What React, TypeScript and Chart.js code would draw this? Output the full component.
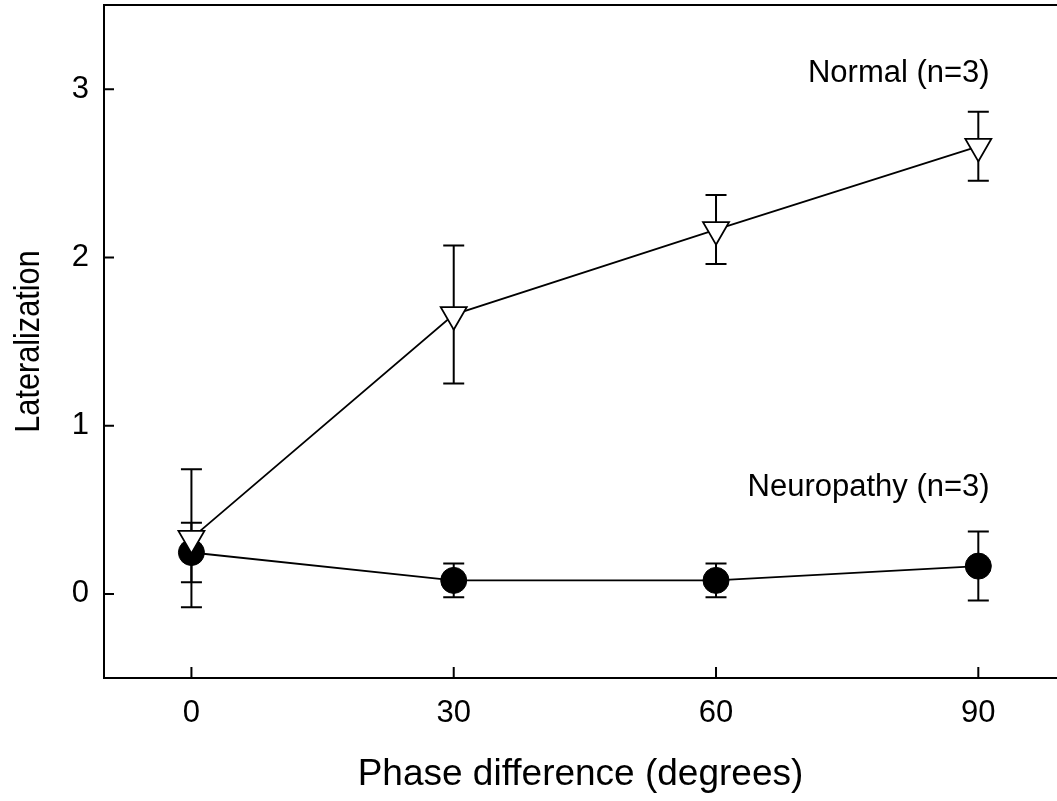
import React, { useEffect, useRef } from "react";
import { Chart, registerables } from "chart.js";

Chart.register(...registerables);

const phases = [0, 30, 60, 90];
const normalMean = [0.33, 1.66, 2.165, 2.66];
const normalErr = [0.41, 0.41, 0.205, 0.205];
const neuroMean = [0.246, 0.08, 0.08, 0.165];
const neuroErr = [0.177, 0.1, 0.1, 0.205];
const xTicks = [0, 30, 60, 90];
const yTicks = [0, 1, 2, 3];
const seriesLabels = ["Normal (n=3)", "Neuropathy (n=3)"];
const xTitle = "Phase difference (degrees)";
const yTitle = "Lateralization";
const FONT = "'Liberation Sans', Arial, Helvetica, sans-serif";

export default function App() {
  const ref = useRef<HTMLCanvasElement | null>(null);

  useEffect(() => {
    const canvas = ref.current;
    if (!canvas) return;

    const errorBars = {
      id: "errorBars",
      beforeDatasetsDraw(chart: any) {
        const ctx = chart.ctx;
        const xs = chart.scales.x;
        const ys = chart.scales.y;
        const sets = [
          { m: normalMean, e: normalErr },
          { m: neuroMean, e: neuroErr },
        ];
        ctx.save();
        ctx.strokeStyle = "#000";
        ctx.lineWidth = 2;
        sets.forEach((s) => {
          phases.forEach((p, i) => {
            const x = xs.getPixelForValue(p);
            const yh = ys.getPixelForValue(s.m[i] + s.e[i]);
            const yl = ys.getPixelForValue(s.m[i] - s.e[i]);
            ctx.beginPath();
            ctx.moveTo(x, yh);
            ctx.lineTo(x, yl);
            ctx.moveTo(x - 10.5, yh);
            ctx.lineTo(x + 10.5, yh);
            ctx.moveTo(x - 10.5, yl);
            ctx.lineTo(x + 10.5, yl);
            ctx.stroke();
          });
        });
        ctx.restore();
      },
      afterDraw(chart: any) {
        const ctx = chart.ctx;
        const a = chart.chartArea;
        const xs = chart.scales.x;
        const ys = chart.scales.y;
        ctx.save();
        ctx.strokeStyle = "#000";
        ctx.lineWidth = 2;
        ctx.beginPath();
        ctx.moveTo(a.left - 1, a.top);
        ctx.lineTo(a.right, a.top);
        yTicks.forEach((v) => {
          const y = ys.getPixelForValue(v);
          ctx.moveTo(a.left, y);
          ctx.lineTo(a.left + 10, y);
        });
        xTicks.forEach((v) => {
          const x = xs.getPixelForValue(v);
          ctx.moveTo(x, a.bottom);
          ctx.lineTo(x, a.bottom - 11);
        });
        ctx.stroke();
        ctx.fillStyle = "#000";
        ctx.font = `31px ${FONT}`;
        // tick labels
        ctx.textAlign = "right";
        ctx.textBaseline = "middle";
        yTicks.forEach((v) => {
          ctx.fillText(String(v), a.left - 15, ys.getPixelForValue(v));
        });
        ctx.textAlign = "center";
        ctx.textBaseline = "alphabetic";
        xTicks.forEach((v) => {
          ctx.fillText(String(v), xs.getPixelForValue(v), a.bottom + 44);
        });
        // series annotations
        ctx.textAlign = "right";
        ctx.textBaseline = "middle";
        ctx.fillText(seriesLabels[0], xs.getPixelForValue(91.3), ys.getPixelForValue(3.095));
        ctx.fillText(seriesLabels[1], xs.getPixelForValue(91.3), ys.getPixelForValue(0.631));
        // y-axis title (slightly condensed as in the reference)
        ctx.save();
        ctx.translate(38.5, (a.top + a.bottom) / 2);
        ctx.rotate(-Math.PI / 2);
        ctx.scale(0.876, 1);
        ctx.font = `35px ${FONT}`;
        ctx.textAlign = "center";
        ctx.textBaseline = "alphabetic";
        ctx.fillText(yTitle, 0, 0);
        ctx.restore();
        ctx.restore();
      },
    };

    const chart = new Chart(canvas, {
      type: "line",
      data: {
        datasets: [
          {
            label: seriesLabels[0],
            data: phases.map((p, i) => ({ x: p, y: normalMean[i] })),
            borderColor: "#000",
            borderWidth: 1.8,
            pointStyle: "triangle",
            rotation: 180,
            pointRadius: 15,
            pointBackgroundColor: "#fff",
            pointBorderColor: "#000",
            pointBorderWidth: 1.8,
            tension: 0,
          },
          {
            label: seriesLabels[1],
            data: phases.map((p, i) => ({ x: p, y: neuroMean[i] })),
            borderColor: "#000",
            borderWidth: 1.8,
            pointStyle: "circle",
            pointRadius: 13,
            pointBackgroundColor: "#000",
            pointBorderColor: "#000",
            pointBorderWidth: 1,
            tension: 0,
          },
        ],
      },
      options: {
        responsive: false,
        animation: false,
        layout: { autoPadding: false, padding: { top: 5, right: 0, left: 0, bottom: 0 } },
        plugins: { legend: { display: false }, tooltip: { enabled: false } },
        scales: {
          x: {
            type: "linear",
            min: -10,
            max: 99,
            afterBuildTicks: (s: any) => {
              s.ticks = xTicks.map((v) => ({ value: v }));
            },
            afterFit: (s: any) => {
              s.height = 123;
            },
            grid: { display: false, drawTicks: false },
            border: { display: true, color: "#000", width: 2 },
            ticks: { display: false },
            title: {
              display: true,
              text: xTitle,
              color: "#000",
              font: { family: FONT, size: 37 },
              padding: { top: 0, bottom: 4 },
            },
          },
          y: {
            type: "linear",
            min: -0.5,
            max: 3.5,
            afterBuildTicks: (s: any) => {
              s.ticks = yTicks.map((v) => ({ value: v }));
            },
            afterFit: (s: any) => {
              s.width = 104;
            },
            grid: { display: false, drawTicks: false },
            border: { display: true, color: "#000", width: 2 },
            ticks: { display: false },
            title: { display: false },
          },
        },
      },
      plugins: [errorBars],
    } as any);

    return () => chart.destroy();
  }, []);

  return (
    <div style={{ position: "absolute", left: 0, top: 0, width: 1057, height: 801, background: "#fff" }}>
      <canvas ref={ref} width={1057} height={801} />
    </div>
  );
}
